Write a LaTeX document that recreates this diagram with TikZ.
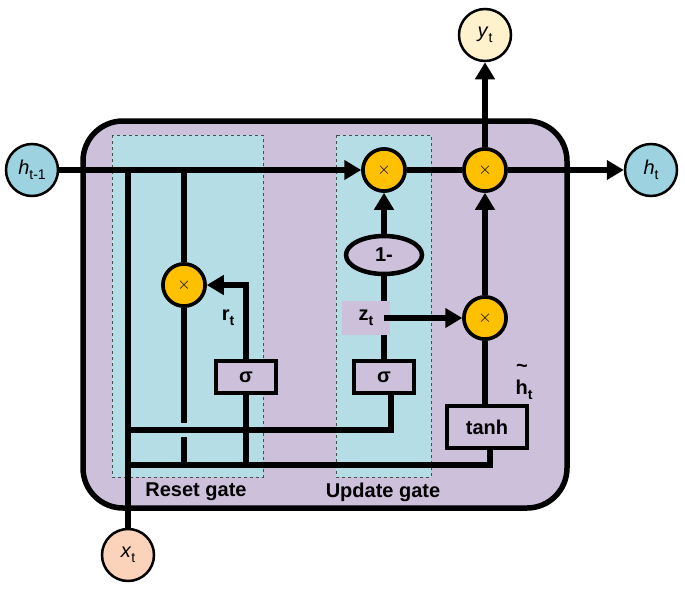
\documentclass[tikz,border=0pt]{standalone}
\usepackage{fontspec}
\setmainfont{Liberation Sans}
\usetikzlibrary{arrows.meta,shapes.geometric}
\definecolor{lav}{HTML}{CDC0DA}
\definecolor{lblue}{HTML}{B5DDE6}
\definecolor{cblue}{HTML}{9DD3E0}
\definecolor{orng}{HTML}{FFC000}
\definecolor{ylw}{HTML}{FEF2CC}
\definecolor{peach}{HTML}{FAD3BA}
\newcommand{\bigtxt}{\fontsize{20}{24}\selectfont}
\newcommand{\sbt}[1]{\raisebox{-0.5ex}{\fontsize{14}{16}\selectfont #1}}
\begin{document}
\begin{tikzpicture}[x=1pt,y=-1pt,
  ln/.style={line width=5.5pt},
  arr/.style={line width=5.5pt,-{Triangle[length=17pt,width=19pt]}},
  mul/.style={circle,draw,line width=3.5pt,fill=orng,minimum size=42pt,inner sep=0pt,font=\bfseries\fontsize{16}{18}\selectfont},
  io/.style={circle,draw,line width=2.5pt,minimum size=52pt,inner sep=0pt,font=\bigtxt},
  box/.style={rectangle,draw,line width=4.5pt,fill=lav,font=\bfseries\bigtxt,inner sep=0pt},
  gate/.style={draw=black!70,dashed,line width=0.6pt,fill=lblue},
  lbl/.style={font=\bfseries\bigtxt}]
\useasboundingbox (0,0) rectangle (685,597);
\draw[line width=5.5pt,fill=lav,rounded corners=40pt] (83,121) rectangle (567,508);
\draw[gate] (112,135) rectangle (263,477);
\draw[gate] (336,135) rectangle (431,477);
% io nodes
\node[io,fill=cblue] (hp) at (32,170) {\textit{h}\sbt{t-1}};
\node[io,fill=cblue] (hn) at (651,170) {\textit{h}\sbt{t}};
\node[io,fill=ylw] (y) at (485,35) {\textit{y}\sbt{t}};
\node[io,fill=peach] (x) at (128,555) {\textit{x}\sbt{t}};
% operators
\node[mul] (m1) at (384,170) {$\times$};
\node[mul] (m2) at (485,170) {$\times$};
\node[mul] (m3) at (184,285) {$\times$};
\node[mul] (m4) at (485,318) {$\times$};
\node[ellipse,draw,line width=4.5pt,fill=lav,minimum width=76pt,minimum height=38pt,inner sep=0pt,font=\bfseries\bigtxt] (om) at (384,255) {1-};
\coordinate (zc) at (384,318);
\coordinate (sc) at (384,377);
\coordinate (j1) at (128,170);
\coordinate (j2) at (184,170);
\coordinate (a1) at (128,430);
\coordinate (a2) at (391,430);
\coordinate (b1) at (128,465);
\coordinate (b2) at (490,465);
\coordinate (c1) at (246,465);
\coordinate (c2) at (246,285);
\coordinate (d1) at (184,465);
\coordinate (g1) at (184,423);
\coordinate (g2) at (184,437);
% connectors
\draw[arr] (hp) -- (m1);
\draw[ln] (m1) -- (m2);
\draw[arr] (m2) -- (hn);
\draw[ln] (j1) -- (x);
\draw[ln] (j2) -- (m3);
\draw[ln] (m3) -- (g1);
\draw[ln] (g2) -- (d1);
\draw[ln] (a1) -- (a2) -- (391,377);
\draw[ln] (b1) -- (b2) -- (490,427);
\draw[ln] (c1) -- (246,377);
\draw[ln] (sc) -- (om);
\draw[arr] (om) -- (m1);
\draw[ln] (485,427) -- (m4);
\draw[arr] (m4) -- (m2);
\draw[arr] (m2) -- (y);
\node[box,minimum width=60pt,minimum height=32pt] (s1) at (246,377) {σ};
\node[box,minimum width=60pt,minimum height=32pt] (s2) at (384,377) {σ};
\node[box,minimum width=80pt,minimum height=42pt] (th) at (487,427) {tanh};
\draw[arr] (s1.north) -- (c2) -- (m3);
\node[fill=lav,minimum width=48pt,minimum height=34pt,inner sep=0pt,font=\bfseries\bigtxt] (z) at (366,318) {z\sbt{t}};
\draw[arr] (zc) -- (m4);
\node[mul] at (384,170) {$\times$};
\node[mul] at (485,170) {$\times$};
\node[mul] at (184,285) {$\times$};
\node[mul] at (485,318) {$\times$};
\node[lbl] (rt) at (228,318) {r\sbt{t}};
\node[lbl] (ht) at (524,390) {h\sbt{t}};
\node[lbl] (tl) at (522,368) {\~{}};
\node[lbl] (rg) at (196,492) {Reset gate};
\node[lbl] (ug) at (383,492) {Update gate};
\end{tikzpicture}
\end{document}
